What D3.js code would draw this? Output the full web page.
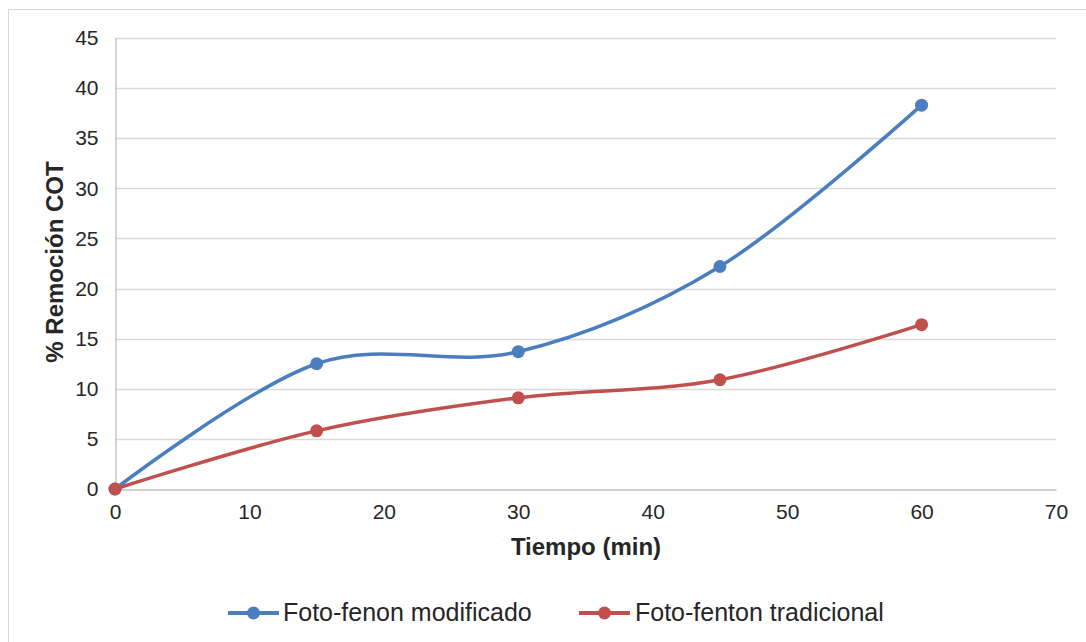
<!DOCTYPE html>
<html><head><meta charset="utf-8">
<script src="https://cdn.jsdelivr.net/npm/d3@7"></script>
<style>body{margin:0;background:#fff}svg{display:block;font-family:"Liberation Sans",Arial,sans-serif}</style>
</head><body>
<svg id="c" width="1086" height="642"></svg>
<script>
const times = [0, 15, 30, 45, 60];
const seriesNames = ["Foto-fenon modificado", "Foto-fenton tradicional"];
const modificado = [0, 12.5, 13.7, 22.2, 38.3];
const tradicional = [0, 5.8, 9.1, 10.9, 16.4];
const xTicks = [0, 10, 20, 30, 40, 50, 60, 70];
const yTicks = [0, 5, 10, 15, 20, 25, 30, 35, 40, 45];
const colors = ["#4a7ebf", "#c0504d"];

const svg = d3.select("#c");
svg.append("rect").attr("x", 8.5).attr("y", 9.5).attr("width", 1100).attr("height", 700)
  .attr("fill", "#fff").attr("stroke", "#d9d9d9");

const x = d3.scaleLinear().domain([0, 70]).range([115, 1056]);
const y = d3.scaleLinear().domain([0, 45]).range([489, 38]);

// gridlines
svg.append("g").selectAll("line").data(yTicks.slice(1)).join("line")
  .attr("x1", x(0)).attr("x2", x(70)).attr("y1", d => Math.round(y(d)) + 0.5).attr("y2", d => Math.round(y(d)) + 0.5)
  .attr("stroke", "#d9d9d9").attr("stroke-width", 1.3);

// axes
const yAxis = d3.axisLeft(y).tickValues(yTicks).tickSize(0).tickPadding(17);
const gy = svg.append("g").attr("transform", `translate(${x(0)+0.5},0)`).call(yAxis);
gy.select(".domain").attr("stroke", "#bfbfbf").attr("stroke-width", 1.3);
gy.selectAll("text").attr("font-size", 21).attr("fill", "#262626").attr("font-family", "Liberation Sans, Arial, sans-serif");

const xAxis = d3.axisBottom(x).tickValues(xTicks).tickSize(0).tickPadding(15);
const gx = svg.append("g").attr("transform", `translate(0,${Math.round(y(0))+0.5})`).call(xAxis);
gx.select(".domain").attr("stroke", "#bfbfbf").attr("stroke-width", 1.3);
gx.selectAll("text").attr("font-size", 21).attr("fill", "#262626").attr("font-family", "Liberation Sans, Arial, sans-serif");

// axis titles
svg.append("text").attr("x", 586).attr("y", 555).attr("text-anchor", "middle")
  .attr("font-size", 24).attr("font-weight", "bold").attr("fill", "#262626").text("Tiempo (min)");
svg.append("text").attr("transform", "translate(63,262) rotate(-90)").attr("text-anchor", "middle")
  .attr("font-size", 24).attr("font-weight", "bold").attr("fill", "#262626").text("% Remoción COT");

const data = [modificado, tradicional];
const line = d3.line().x((d, i) => x(times[i])).y(d => y(d)).curve(d3.curveCatmullRom.alpha(0));
data.forEach((s, k) => {
  svg.append("path").datum(s).attr("d", line).attr("fill", "none")
    .attr("stroke", colors[k]).attr("stroke-width", 3.5);
});
data.forEach((s, k) => {
  svg.append("g").selectAll("circle").data(s).join("circle")
    .attr("cx", (d, i) => x(times[i])).attr("cy", d => y(d)).attr("r", 6.5).attr("fill", colors[k]);
});

// legend
const leg = [{x0: 228, tx: 283}, {x0: 579, tx: 635}];
seriesNames.forEach((n, k) => {
  const g = svg.append("g");
  g.append("line").attr("x1", leg[k].x0).attr("x2", leg[k].x0 + 51).attr("y1", 613).attr("y2", 613)
    .attr("stroke", colors[k]).attr("stroke-width", 3.8);
  g.append("circle").attr("cx", leg[k].x0 + 25.5).attr("cy", 613).attr("r", 6.5).attr("fill", colors[k]);
  g.append("text").attr("x", leg[k].tx).attr("y", 621).attr("font-size", 25).attr("fill", "#262626").text(n);
});
</script>
</body></html>
